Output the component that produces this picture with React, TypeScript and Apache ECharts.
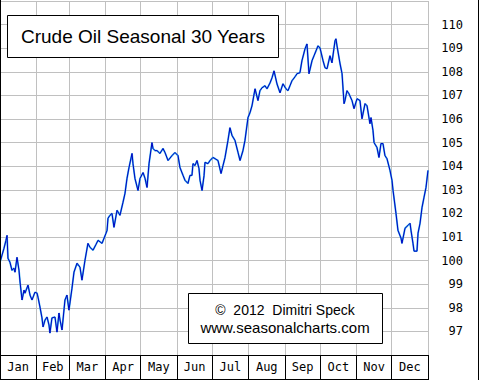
import React, { useEffect, useRef } from "react";
import * as echarts from "echarts";

// Day of year (0..365) and seasonal index value
const days: number[] = [
  0, 1.7, 3.4, 5.1, 6.0, 6.8, 8.5, 10.2, 11.9, 12.8, 14.5, 16.2, 17.1, 18.8, 20.5, 21.3, 23.9, 25.6, 27.3, 29.8,
  31.6, 32.4, 34.1, 35.8, 36.7, 38.4, 40.1, 41.8, 42.6, 44.3, 46.9, 48.6, 50.3, 51.2, 52.9, 55.4, 57.1, 58.8, 61.4, 63.1,
  65.7, 68.2, 69.9, 72.5, 75.0, 76.8, 79.3, 81.9, 83.6, 87.0, 90.4, 91.3, 92.1, 93.8, 95.5, 97.2, 99.8, 102.3, 104.9, 106.6,
  108.3, 110.0, 112.6, 113.4, 115.1, 117.7, 119.4, 122.0, 123.7, 125.4, 127.1, 129.6, 130.5, 132.2, 133.9, 136.4, 139.0, 140.7, 143.3, 146.7,
  149.2, 151.8, 153.5, 156.1, 157.8, 160.3, 162.0, 163.7, 164.6, 166.3, 168.0, 169.7, 170.6, 172.3, 174.0, 174.8, 177.4, 179.1, 181.6, 183.4,
  185.9, 188.5, 190.2, 191.9, 194.4, 196.1, 197.9, 200.4, 203.0, 204.7, 207.2, 208.9, 211.5, 213.2, 214.9, 217.5, 220.0, 221.7, 223.4, 226.0,
  227.7, 230.3, 232.0, 233.7, 236.2, 238.8, 241.3, 243.9, 245.6, 247.3, 249.0, 251.6, 253.3, 255.8, 257.5, 260.1, 261.8, 263.5, 266.1, 267.8,
  269.5, 271.2, 272.9, 275.5, 277.2, 278.9, 281.4, 283.1, 285.7, 286.5, 287.4, 290.0, 291.7, 293.4, 294.2, 295.9, 297.6, 300.2, 301.9, 304.5,
  307.0, 308.7, 311.3, 313.0, 315.5, 316.4, 318.1, 319.0, 321.5, 323.2, 324.9, 326.6, 328.3, 330.0, 332.6, 334.3, 335.2, 337.7, 339.4, 342.0,
  342.8, 345.4, 347.9, 349.7, 350.5, 352.2, 353.1, 355.6, 356.5, 358.2, 359.9, 361.6, 363.3, 365.0,
];
const values: number[] = [
  99.93, 100.23, 100.52, 100.86, 101.07, 100.10, 99.93, 99.59, 99.68, 99.51, 100.14, 99.59, 99.09, 98.33, 98.75, 98.62, 98.96, 98.54, 98.33, 98.66,
  98.62, 98.45, 98.03, 97.57, 97.19, 97.48, 97.61, 97.27, 96.93, 97.57, 97.61, 96.97, 97.78, 97.48, 97.06, 98.33, 98.54, 97.90, 98.83, 99.51,
  99.89, 99.72, 99.17, 100.02, 100.73, 100.56, 100.44, 100.69, 100.86, 100.73, 101.16, 101.28, 101.79, 101.92, 102.00, 101.41, 102.13, 101.92, 102.47, 102.85,
  103.48, 103.94, 104.54, 104.11, 103.48, 102.97, 103.48, 103.73, 103.48, 103.10, 104.11, 105.00, 104.75, 104.66, 104.66, 104.54, 104.75, 104.58, 104.24, 104.45,
  104.58, 104.45, 103.94, 103.61, 103.40, 103.27, 103.61, 103.61, 104.11, 104.03, 104.24, 103.90, 103.40, 102.97, 103.60, 104.16, 104.11, 104.24, 104.37, 104.32,
  104.24, 103.69, 104.03, 104.37, 105.09, 105.63, 105.30, 105.09, 104.58, 104.24, 104.66, 105.09, 106.06, 106.27, 106.56, 107.28, 106.78, 107.20, 107.32, 107.41,
  107.28, 107.53, 107.75, 108.04, 107.49, 107.11, 107.49, 107.28, 107.20, 107.41, 107.62, 107.79, 107.92, 107.96, 108.47, 108.97, 109.18, 107.92, 108.47, 108.68,
  108.89, 109.10, 109.01, 108.47, 108.17, 108.13, 108.68, 108.38, 109.31, 109.40, 109.10, 108.34, 107.92, 106.65, 106.78, 107.20, 107.07, 106.78, 106.44, 106.86,
  106.78, 106.01, 106.65, 106.56, 105.80, 106.06, 105.51, 105.00, 104.79, 104.37, 104.96, 104.96, 104.45, 104.32, 103.82, 103.40, 102.97, 102.00, 101.28, 100.95,
  100.73, 101.37, 101.49, 101.58, 101.28, 100.73, 100.40, 100.40, 101.16, 101.58, 102.25, 102.68, 103.10, 103.82,
];

const monthNames: string[] = ["Jan", "Feb", "Mar", "Apr", "May", "Jun", "Jul", "Aug", "Sep", "Oct", "Nov", "Dec"];
const monthStarts: number[] = [0, 31, 59, 90, 120, 151, 181, 212, 243, 273, 304, 334, 365];
const yTicks: number[] = [97, 98, 99, 100, 101, 102, 103, 104, 105, 106, 107, 108, 109, 110];

const titleText = "Crude Oil Seasonal 30 Years";
const creditLine1 = "©  2012  Dimitri Speck";
const creditLine2 = "www.seasonalcharts.com";

export default function App() {
  const ref = useRef<HTMLDivElement>(null);

  useEffect(() => {
    if (!ref.current) return;
    const chart = echarts.init(ref.current, undefined, { renderer: "svg" });
    const data = days.map((d, i) => [d, values[i]]);
    const monthMids = monthNames.map((_, i) => (monthStarts[i] + monthStarts[i + 1]) / 2);
    const mono = "'DejaVu Sans Mono', monospace";
    const sans = "'Liberation Sans', Arial, sans-serif";

    chart.setOption({
      animation: false,
      backgroundColor: "#ffffff",
      grid: { left: 0, right: 52, top: 1, bottom: 25, containLabel: false },
      xAxis: {
        type: "value",
        min: 0,
        max: 365,
        axisLine: { show: true, onZero: false, lineStyle: { color: "#000000", width: 1 } },
        axisTick: {
          show: true,
          customValues: monthStarts,
          length: 24,
          inside: false,
          lineStyle: { color: "#000000", width: 1 },
        },
        axisLabel: {
          customValues: monthMids,
          formatter: (v: number) => {
            const i = monthMids.findIndex((m) => Math.abs(m - v) < 0.01);
            return i >= 0 ? monthNames[i] : "";
          },
          margin: 6,
          fontFamily: mono,
          fontSize: 12,
          color: "#000000",
        },
        splitLine: { show: true, lineStyle: { color: "#c0c0c0", width: 1 } },
      },
      yAxis: {
        type: "value",
        position: "right",
        min: 96,
        max: 111,
        interval: 1,
        axisLine: { show: true, lineStyle: { color: "#c0c0c0", width: 1 } },
        axisTick: { show: false },
        axisLabel: {
          formatter: (v: number) => (yTicks.indexOf(v) >= 0 ? String(v) : ""),
          align: "right",
          margin: 35,
          fontFamily: mono,
          fontSize: 12,
          color: "#000000",
        },
        splitLine: { show: true, lineStyle: { color: "#c0c0c0", width: 1 } },
      },
      series: [
        {
          type: "line",
          data,
          showSymbol: false,
          symbol: "none",
          lineStyle: { color: "#3cb4ec", width: 1.8 },
          z: 2,
        },
        {
          type: "line",
          data,
          showSymbol: false,
          symbol: "none",
          lineStyle: { color: "#0000c0", width: 1 },
          z: 3,
        },
      ],
      graphic: [
        { type: "line", z: 100, shape: { x1: 0.5, y1: 0, x2: 0.5, y2: 380 }, style: { stroke: "#000", lineWidth: 1 } },
        { type: "line", z: 100, shape: { x1: 478.5, y1: 0, x2: 478.5, y2: 380 }, style: { stroke: "#000", lineWidth: 1 } },
        { type: "line", z: 100, shape: { x1: 0, y1: 379.5, x2: 429, y2: 379.5 }, style: { stroke: "#000", lineWidth: 1 } },
        {
          type: "rect",
          z: 100,
          shape: { x: 7.5, y: 15.5, width: 271, height: 42 },
          style: { fill: "#ffffff", stroke: "#000000", lineWidth: 1 },
        },
        {
          type: "text",
          z: 101,
          x: 143,
          y: 36.5,
          style: {
            text: titleText,
            font: `19px ${sans}`,
            fill: "#000000",
            textAlign: "center",
            textVerticalAlign: "middle",
          },
        },
        {
          type: "rect",
          z: 100,
          shape: { x: 188.5, y: 293.5, width: 194, height: 50 },
          style: { fill: "#ffffff", stroke: "#000000", lineWidth: 1 },
        },
        {
          type: "text",
          z: 101,
          x: 285,
          y: 309.5,
          style: {
            text: creditLine1,
            font: `14px ${sans}`,
            fill: "#000000",
            textAlign: "center",
            textVerticalAlign: "middle",
          },
        },
        {
          type: "text",
          z: 101,
          x: 285,
          y: 327,
          style: {
            text: creditLine2,
            font: `15px ${sans}`,
            fill: "#000000",
            textAlign: "center",
            textVerticalAlign: "middle",
          },
        },
      ],
    });
    return () => chart.dispose();
  }, []);

  return (
    <div
      ref={ref}
      style={{ width: 480, height: 380, position: "absolute", left: 0, top: 0 }}
    />
  );
}
